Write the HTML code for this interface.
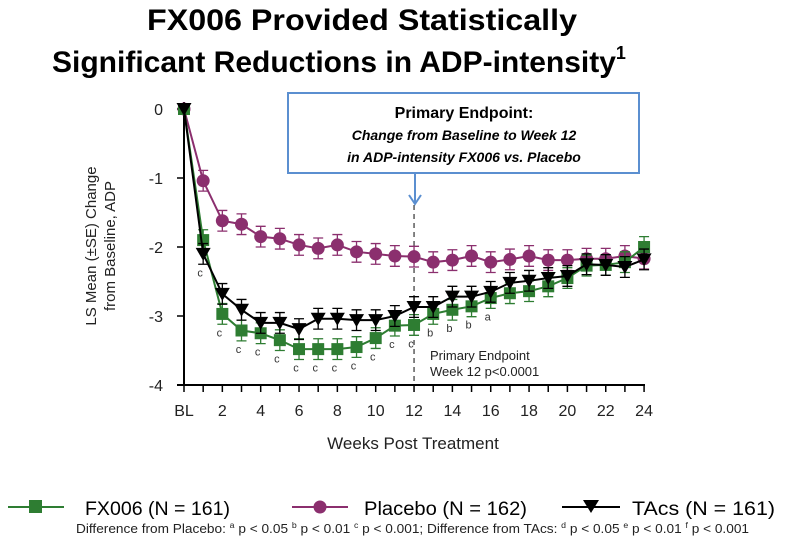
<!DOCTYPE html>
<html><head><meta charset="utf-8"><style>
body{margin:0;background:#fff;}
svg{display:block;font-family:"Liberation Sans",sans-serif;}
</style></head><body>
<svg width="801" height="554" viewBox="0 0 801 554" id="chart">
<text x="147" y="30" font-size="30" font-weight="bold" textLength="430" lengthAdjust="spacingAndGlyphs">FX006 Provided Statistically</text>
<text x="52" y="72" font-size="30" font-weight="bold">Significant Reductions in ADP-intensity<tspan font-size="18" dy="-13">1</tspan></text>
<g id="plot"></g>
<rect x="288" y="93" width="351" height="80" fill="#fff" stroke="#5b8fd0" stroke-width="2"/>
<text x="464" y="118" text-anchor="middle" font-size="16" font-weight="bold">Primary Endpoint:</text>
<text x="464" y="140" text-anchor="middle" font-size="14" font-weight="bold" font-style="italic">Change from Baseline to Week 12</text>
<text x="464" y="162" text-anchor="middle" font-size="14" font-weight="bold" font-style="italic">in ADP-intensity FX006 vs. Placebo</text>
<line x1="415" y1="174" x2="415" y2="203" stroke="#5b8fd0" stroke-width="2"/>
<polyline points="409,195 415,204 421,195" fill="none" stroke="#5b8fd0" stroke-width="2"/>
<text transform="translate(100,246) rotate(-90)" text-anchor="middle" font-size="15" fill="#222"><tspan x="0" dy="-4">LS Mean (±SE) Change</tspan><tspan x="0" dy="19">from Baseline, ADP</tspan></text>
<text x="413" y="449" text-anchor="middle" font-size="17" fill="#222">Weeks Post Treatment</text>
<text x="430" y="360" font-size="13" fill="#222">Primary Endpoint</text>
<text x="430" y="376" font-size="13" fill="#222">Week 12 p&lt;0.0001</text>
<g>
<g><line x1="8" y1="507" x2="64" y2="507" stroke="#2e7d32" stroke-width="2"/><rect x="29" y="500" width="13" height="13" fill="#2e7d32"/><text x="85" y="515" font-size="19" textLength="145" lengthAdjust="spacingAndGlyphs">FX006 (N = 161)</text></g>
<g><line x1="292" y1="507" x2="348" y2="507" stroke="#8b2f6e" stroke-width="2"/><circle cx="320" cy="507" r="6.5" fill="#8b2f6e"/><text x="364" y="515" font-size="19" textLength="163" lengthAdjust="spacingAndGlyphs">Placebo (N = 162)</text></g>
<g><line x1="562" y1="507" x2="620" y2="507" stroke="#000" stroke-width="2"/><polygon points="583,500 599,500 591,513" fill="#000"/><text x="632" y="515" font-size="19" textLength="143" lengthAdjust="spacingAndGlyphs">TAcs (N = 161)</text></g>
<text x="76" y="533" font-size="12.5" fill="#222" textLength="673" lengthAdjust="spacingAndGlyphs">Difference from Placebo: <tspan font-size="8" dy="-5">a</tspan><tspan dy="5"> p &lt; 0.05  </tspan><tspan font-size="8" dy="-5">b</tspan><tspan dy="5"> p &lt; 0.01  </tspan><tspan font-size="8" dy="-5">c</tspan><tspan dy="5"> p &lt; 0.001; Difference from TAcs: </tspan><tspan font-size="8" dy="-5">d</tspan><tspan dy="5"> p &lt; 0.05  </tspan><tspan font-size="8" dy="-5">e</tspan><tspan dy="5"> p &lt; 0.01  </tspan><tspan font-size="8" dy="-5">f</tspan><tspan dy="5"> p &lt; 0.001</tspan></text>
</g>
</svg>
<script>
const weeks=[0,1,2,3,4,5,6,7,8,9,10,11,12,13,14,15,16,17,18,19,20,21,22,23,24];
const placebo=[0,-1.04,-1.62,-1.67,-1.85,-1.88,-1.97,-2.02,-1.97,-2.07,-2.1,-2.13,-2.14,-2.22,-2.19,-2.13,-2.22,-2.18,-2.13,-2.19,-2.19,-2.17,-2.17,-2.13,-2.17];
const fx006=[0,-1.9,-2.97,-3.21,-3.25,-3.35,-3.48,-3.48,-3.48,-3.45,-3.32,-3.14,-3.13,-2.97,-2.91,-2.86,-2.74,-2.67,-2.64,-2.57,-2.45,-2.27,-2.26,-2.22,-2.0];
const tacs=[0,-2.1,-2.68,-2.91,-3.1,-3.1,-3.19,-3.04,-3.04,-3.06,-3.06,-3.0,-2.87,-2.87,-2.72,-2.72,-2.65,-2.52,-2.49,-2.45,-2.42,-2.25,-2.26,-2.29,-2.18];
const seErr=0.15;
const sigLetters=["","c","c","c","c","c","c","c","c","c","c","c","c","b","b","b","a","","","","","","","",""];
const xTicks=[0,2,4,6,8,10,12,14,16,18,20,22,24];
const xTickLabels=["BL","2","4","6","8","10","12","14","16","18","20","22","24"];
const yTicks=[0,-1,-2,-3,-4];
const NS="http://www.w3.org/2000/svg";
const g=document.getElementById('plot');
const X=w=>184+w*19.17;
const Y=v=>109-v*69;
function mk(t,a,p){const e=document.createElementNS(NS,t);for(const k in a)e.setAttribute(k,a[k]);(p||g).appendChild(e);return e;}
let ax=mk('line',{x1:184,y1:102,x2:184,y2:385,stroke:'#000','stroke-width':2});


let bx=mk('line',{x1:177,y1:385,x2:645,y2:385,stroke:'#000','stroke-width':2});


yTicks.forEach(v=>{
  let l=mk('line',{x1:177,y1:Y(v),x2:184,y2:Y(v),stroke:'#000','stroke-width':1.5});
  
  
  let t=mk('text',{x:163,y:Y(v)+6,'text-anchor':'end','font-size':16,fill:'#222'});
  t.textContent=v===0?'0':String(v);
  
  
});
weeks.forEach(w=>{
  let l=mk('line',{x1:X(w),y1:385,x2:X(w),y2:392,stroke:'#000','stroke-width':1.5});
  
  
});
xTicks.forEach((w,i)=>{
  let t=mk('text',{x:X(w),y:416,'text-anchor':'middle','font-size':16,fill:'#222'});
  t.textContent=xTickLabels[i];
  
  
});
let dl=mk('line',{x1:X(12),y1:205,x2:X(12),y2:385,stroke:'#333','stroke-width':1.2,'stroke-dasharray':'5,4'});


function series(vals,color,shape,name){
  const sg=mk('g',{});
  
  
  vals.forEach((v,i)=>{
    if(i===0)return;
    const x=X(weeks[i]),y1=Y(v+seErr),y2=Y(v-seErr);
    const eb=mk('path',{d:`M${x-5},${y1}H${x+5}M${x},${y1}V${y2}M${x-5},${y2}H${x+5}`,stroke:color,'stroke-width':1.3,fill:'none'},sg);
    
    
  });
  const ln=mk('polyline',{points:vals.map((v,i)=>X(weeks[i])+','+Y(v)).join(' '),fill:'none',stroke:color,'stroke-width':2},sg);
  
  
  vals.forEach((v,i)=>{
    const x=X(weeks[i]),y=Y(v);let m;
    if(shape==='sq')m=mk('rect',{x:x-6,y:y-6,width:12,height:12,fill:color},sg);
    else if(shape==='ci')m=mk('circle',{cx:x,cy:y,r:6.5,fill:color},sg);
    else m=mk('polygon',{points:`${x-7.5},${y-6} ${x+7.5},${y-6} ${x},${y+7}`,fill:color},sg);
    
    
  });
}
series(placebo,'#8b2f6e','ci','placebo');
series(fx006,'#2e7d32','sq','fx006');
series(tacs,'#000','tri','tacs');
sigLetters.forEach((s,i)=>{
  if(!s)return;
  const low=Math.min(fx006[i],tacs[i]);
  const y=Y(low-seErr)+12;
  let t=mk('text',{x:X(weeks[i])-3,y:y,'text-anchor':'middle','font-size':11,fill:'#333'});
  t.textContent=s;
  
  
});
</script>
</body></html>
